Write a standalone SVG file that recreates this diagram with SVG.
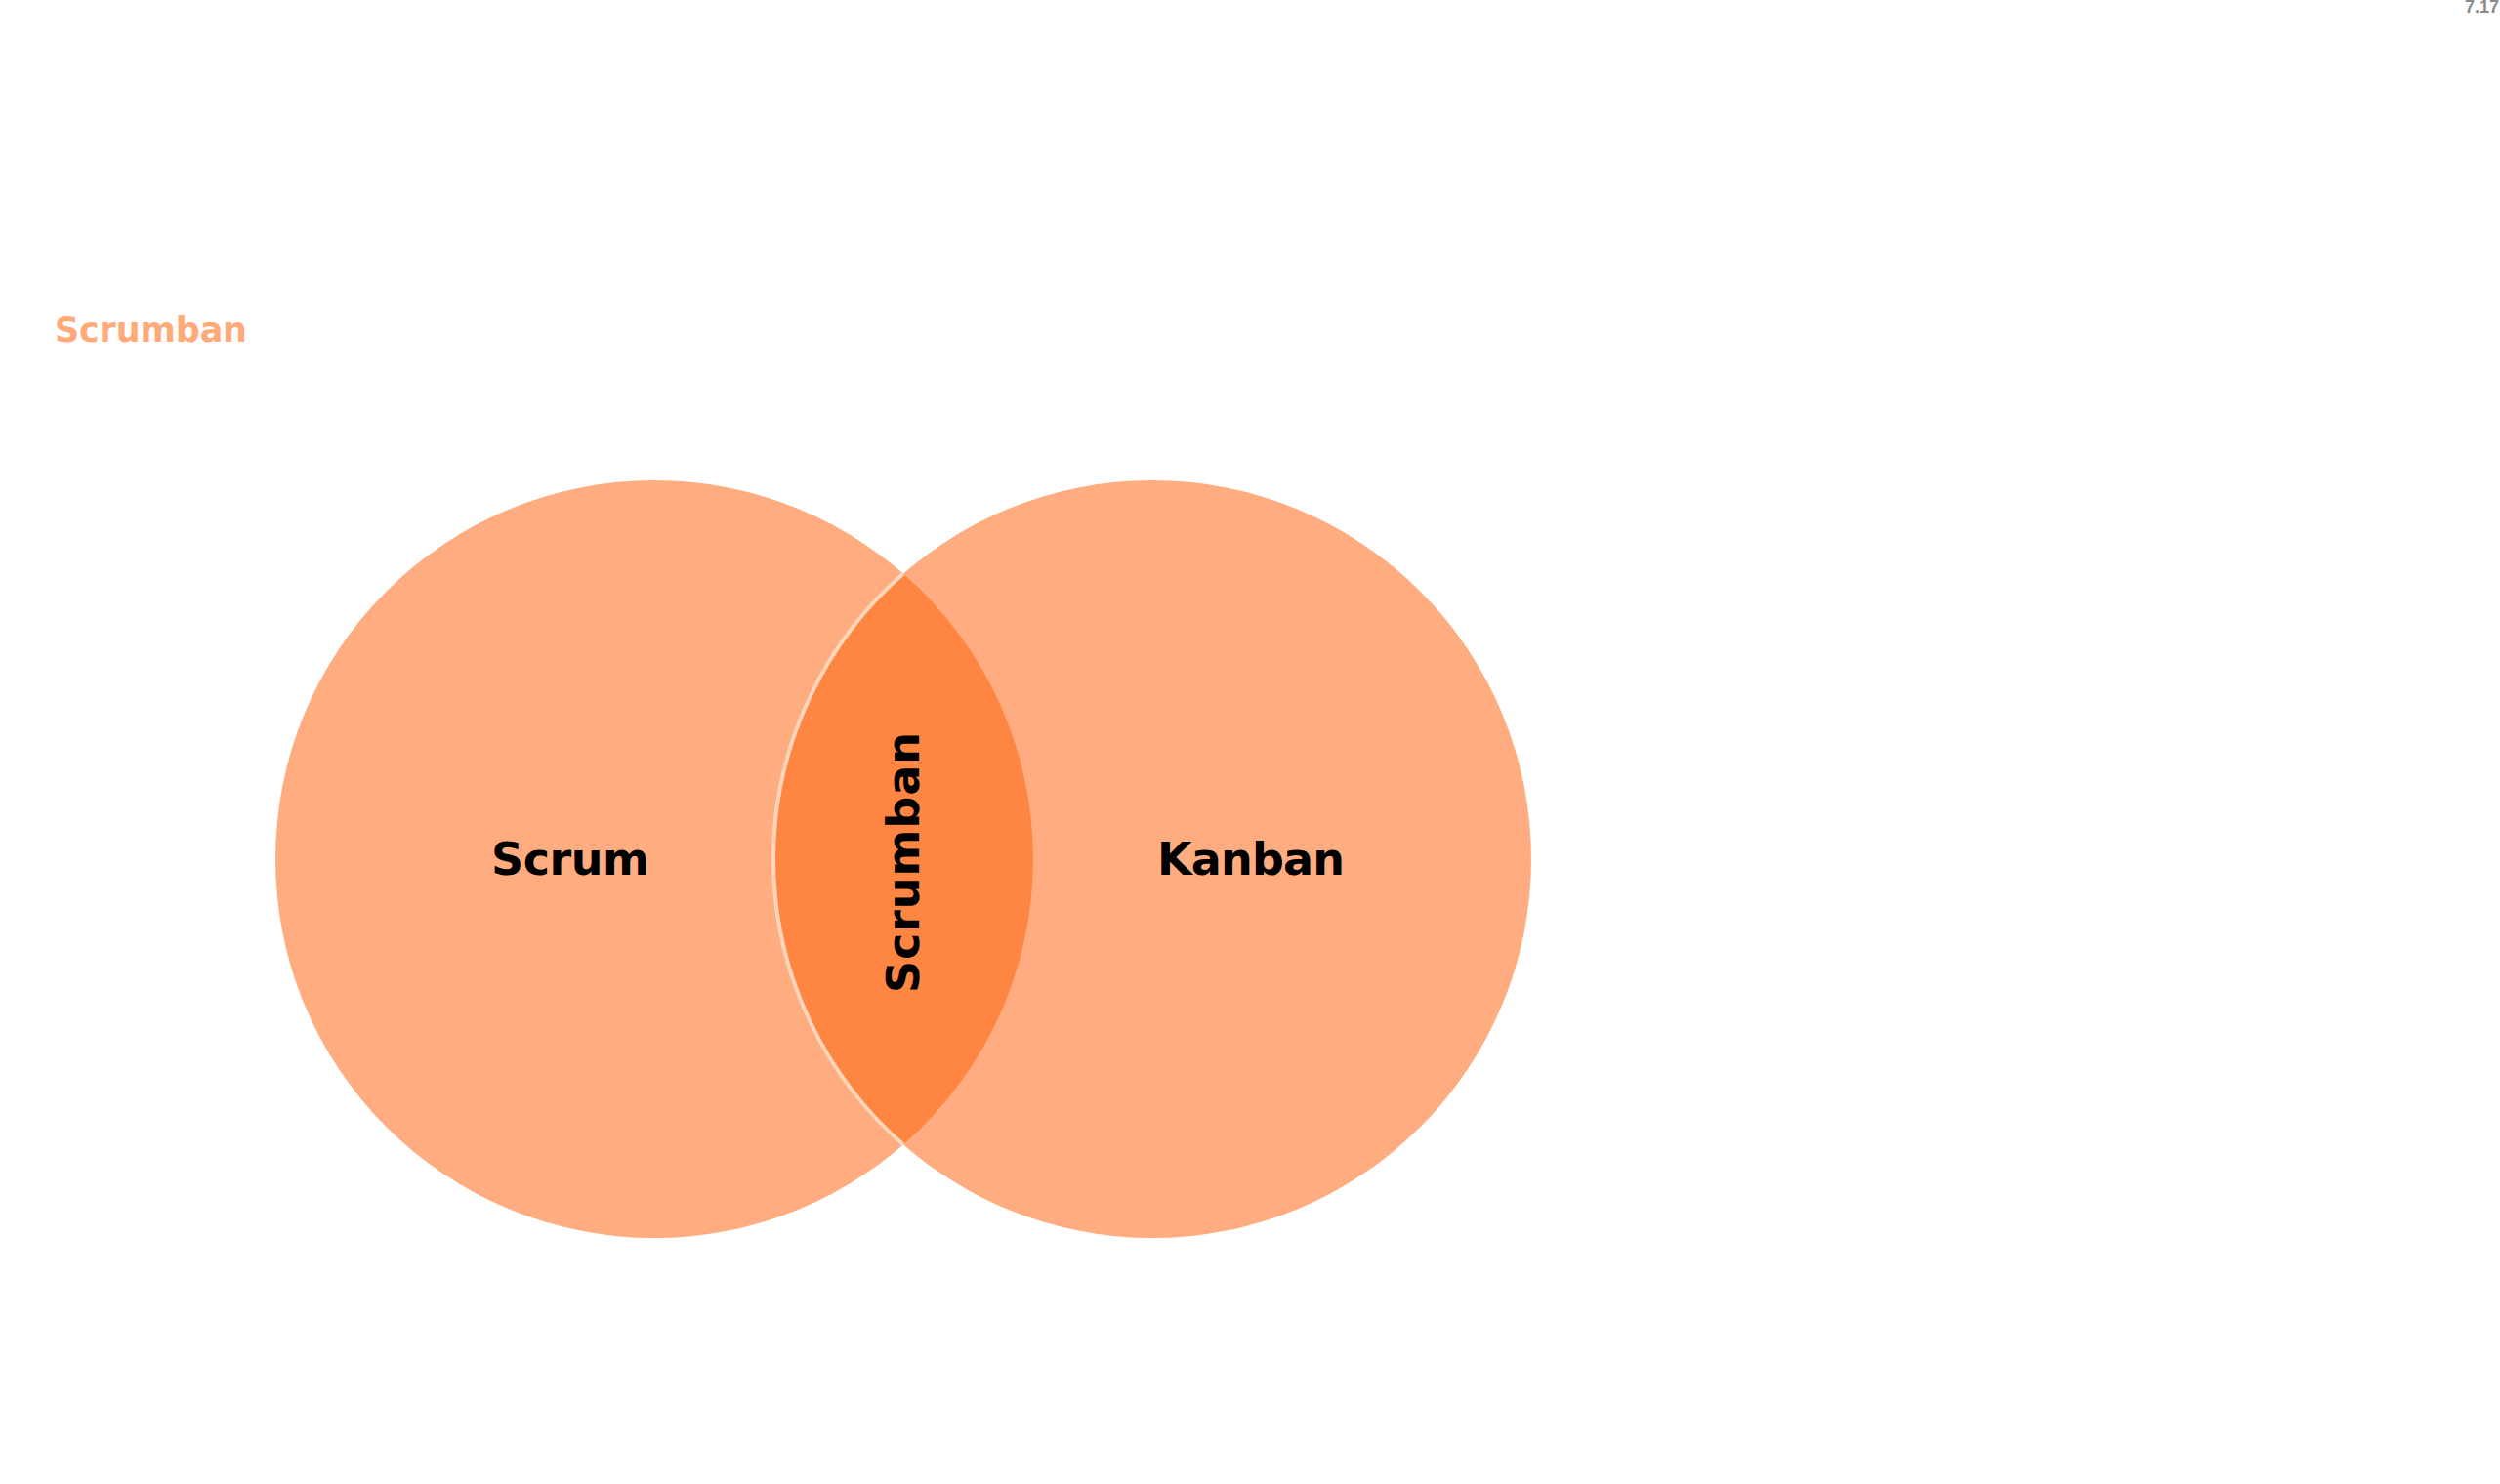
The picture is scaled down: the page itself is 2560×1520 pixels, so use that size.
<svg xmlns="http://www.w3.org/2000/svg" width="2560" height="1520" viewBox="0 0 2560 1520">
  <style>
    .lbl { font-family: "DejaVu Sans", "Liberation Sans", sans-serif; font-weight: 700; fill: #000000; font-size: 46px; }
    .title { font-family: "DejaVu Sans", "Liberation Sans", sans-serif; font-weight: 700; fill: #FFAA78; font-size: 35px; }
    .ver { font-family: "Liberation Sans", sans-serif; font-weight: 700; fill: #8A8A8A; font-size: 18px; }
    .circ { fill: #FFAD80; }
  </style>
  <rect x="0" y="0" width="2560" height="1520" fill="#FFFFFF"/>
  <text class="ver" x="2559" y="13" text-anchor="end">7.17</text>
  <text class="title" x="56" y="350" textLength="197">Scrumban</text>
  <g id="scrum">
    <circle class="circ" cx="670" cy="880" r="388"/>
  </g>
  <g id="kanban">
    <circle class="circ" cx="1180" cy="880" r="388"/>
  </g>
  <g id="scrumban">
    <path d="M925,587.6 A388,388 0 0 0 925,1172.4 A388,388 0 0 0 925,587.6 Z" fill="#FF8642"/>
    <path d="M925,587.6 A388,388 0 0 0 925,1172.4" fill="none" stroke="#FFD6BC" stroke-width="4"/>
  </g>
  <g id="labels">
    <text class="lbl" x="503" y="896" textLength="162">Scrum</text>
    <text class="lbl" x="1185" y="896" textLength="192">Kanban</text>
    <text class="lbl" transform="translate(941,1017) rotate(-90)" x="0" y="0" textLength="267">Scrumban</text>
  </g>
</svg>
